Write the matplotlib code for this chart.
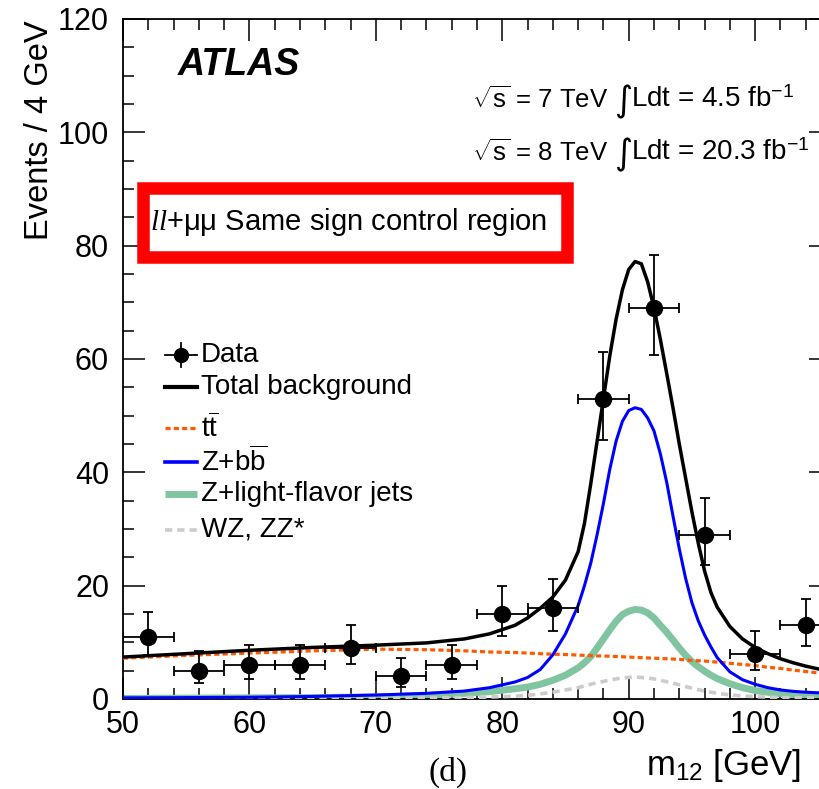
import matplotlib
matplotlib.use("Agg")
import matplotlib.pyplot as plt
from matplotlib.lines import Line2D
from matplotlib.patches import Rectangle
from matplotlib.ticker import MultipleLocator

plt.rcParams["font.family"] = ["Liberation Sans", "DejaVu Sans"]
plt.rcParams["mathtext.fontset"] = "custom"
plt.rcParams["mathtext.rm"] = "Liberation Sans"
plt.rcParams["mathtext.it"] = "Liberation Serif:italic"
plt.rcParams["mathtext.bf"] = "Liberation Sans:bold"

# ---- data: observed events per 4 GeV bin ----
bin_centers = [52, 56, 60, 64, 68, 72, 76, 80, 84, 88, 92, 96, 100, 104]
data_counts = [11, 5, 6, 6, 9, 4, 6, 15, 16, 53, 69, 29, 8, 13]
err_low = [3.3, 2.2, 2.4, 2.4, 2.9, 1.9, 2.4, 3.8, 4.0, 7.3, 8.3, 5.3, 2.8, 3.6]
err_high = [4.4, 3.4, 3.6, 3.6, 4.1, 3.2, 3.6, 5.0, 5.1, 8.3, 9.4, 6.4, 4.0, 4.7]
bin_half_width = 2.0

# ---- background model curves ----
m_grid = [50, 55, 60, 65, 70, 74, 77, 79, 81, 82, 83, 84, 85, 86, 86.5, 87,
          87.5, 88, 88.5, 89, 89.5, 90, 90.5, 91, 91.5, 92, 92.5, 93, 93.5,
          94, 94.5, 95, 95.5, 96, 96.5, 97, 98, 99, 100, 101, 102, 103, 104,
          105, 106]
total_bkg = [7.4, 8.0, 8.6, 9.1, 9.5, 9.9, 10.6, 11.5, 13.0, 14.3, 16.0, 18.0,
             21.0, 26.0, 31.0, 38.0, 45.5, 53.0, 60.5, 67.0, 72.2, 75.8, 77.2,
             76.8, 73.6, 69.0, 63.5, 57.5, 51.4, 45.0, 39.0, 33.0, 27.5, 22.6,
             18.8, 16.2, 12.8, 10.6, 9.1, 8.0, 7.1, 6.4, 5.8, 5.3, 4.9]
ttbar = [7.2, 7.7, 8.1, 8.5, 8.8, 8.7, 8.5, 8.3, 8.2, 8.1, 8.0, 7.9, 7.85,
         7.75, 7.7, 7.65, 7.6, 7.6, 7.55, 7.5, 7.45, 7.4, 7.35, 7.3, 7.25, 7.2,
         7.15, 7.1, 7.05, 7.0, 6.9, 6.8, 6.75, 6.7, 6.6, 6.5, 6.3, 6.1, 5.9,
         5.6, 5.4, 5.1, 4.85, 4.6, 4.4]
z_bb = [0.2, 0.25, 0.3, 0.45, 0.7, 1.0, 1.4, 2.0, 3.0, 3.8, 5.2, 7.8, 11.5,
        16.5, 20.0, 24.0, 29.0, 34.5, 40.5, 45.5, 49.0, 50.9, 51.4, 51.1, 49.6,
        47.3, 43.3, 38.3, 32.3, 26.5, 21.3, 17.0, 13.8, 11.3, 9.2, 7.3, 4.8,
        3.4, 2.6, 2.0, 1.6, 1.35, 1.2, 1.1, 1.0]
z_light = [0.1, 0.15, 0.2, 0.25, 0.35, 0.6, 1.0, 1.3, 1.8, 2.1, 2.6, 3.3, 4.2,
           5.5, 6.4, 7.5, 9.0, 10.6, 12.2, 13.7, 14.9, 15.5, 15.8, 15.7, 15.2,
           14.3, 13.0, 11.8, 10.4, 9.0, 7.7, 6.6, 5.7, 4.9, 4.2, 3.6, 2.7, 2.0,
           1.5, 1.2, 0.95, 0.8, 0.65, 0.55, 0.5]
wz_zz = [0.05, 0.05, 0.07, 0.1, 0.12, 0.18, 0.25, 0.35, 0.5, 0.65, 0.9, 1.2,
         1.6, 2.0, 2.3, 2.6, 2.9, 3.1, 3.35, 3.55, 3.7, 3.8, 3.85, 3.8, 3.7,
         3.55, 3.3, 3.05, 2.8, 2.5, 2.2, 1.9, 1.65, 1.4, 1.2, 1.0, 0.72, 0.55,
         0.42, 0.33, 0.27, 0.23, 0.2, 0.18, 0.17]

C_TT = "#ff5a00"
C_BB = "#0000ff"
C_LF = "#80c4a0"
C_VV = "#cccccc"

W, H = 820, 789
fig = plt.figure(figsize=(W / 100, H / 100), dpi=100)
ax = fig.add_axes([123 / W, (H - 699) / H, 708 / W, 680 / H])

ax.plot(m_grid, z_light, color=C_LF, lw=5.0, solid_capstyle="butt", zorder=2)
ax.plot(m_grid, wz_zz, color=C_VV, lw=2.6, dashes=(2.0, 1.4), zorder=3)
ax.plot(m_grid, ttbar, color=C_TT, lw=2.3, dashes=(1.6, 1.0), zorder=3)
ax.plot(m_grid, z_bb, color=C_BB, lw=2.2, zorder=4)
ax.plot(m_grid, total_bkg, color="black", lw=2.5, zorder=5)

ax.errorbar(bin_centers, data_counts, yerr=[err_low, err_high],
            xerr=bin_half_width, fmt="o", color="black", ms=11.5,
            elinewidth=1.3, capsize=3.5, capthick=1.3, zorder=6)

ax.set_xlim(50, 106)
ax.set_ylim(0, 120)
ax.xaxis.set_major_locator(MultipleLocator(10))
ax.xaxis.set_minor_locator(MultipleLocator(2))
ax.yaxis.set_major_locator(MultipleLocator(20))
ax.yaxis.set_minor_locator(MultipleLocator(5))
ax.tick_params(which="both", direction="in", top=True, right=True,
               width=1.1, labelsize=22, colors="black")
ax.tick_params(which="major", length=16)
ax.tick_params(which="minor", length=8)
ax.tick_params(axis="x", pad=8)
ax.tick_params(axis="y", pad=10)
for s in ax.spines.values():
    s.set_linewidth(1.3)

fig.text(40 / W, 1 - 20 / H, "Events / 4 GeV", rotation=90, ha="center",
         va="top", fontsize=23.5)
fig.text(801 / W, 1 - 765 / H, r"m$_{12}$ [GeV]", ha="right", va="center",
         fontsize=25)
fig.text(448 / W, 1 - 772 / H, "(d)", ha="center", va="center", fontsize=24,
         family="Liberation Serif")

fig.text(178 / W, 1 - 65 / H, "ATLAS", ha="left", va="center", fontsize=27,
         fontweight="bold", fontstyle="italic")

# luminosity lines: each piece placed separately so the integral sign can be tall
for y, energy, lumi in [(100, "7", "4.5"), (153, "8", "20.3")]:
    fig.text(472 / W, 1 - y / H, r"$\sqrt{\mathrm{s}}$ = " + energy + " TeV",
             ha="left", va="center", fontsize=18.5)
    fig.text(614 / W, 1 - (y + 2) / H, "∫", ha="left", va="center",
             fontsize=25, family=["DejaVu Sans", "Noto Sans"])
    fig.text(631 / W, 1 - y / H,
             "Ldt = " + lumi + r" fb$^{\mathrm{-1}}$",
             ha="left", va="center", fontsize=20)

# region label with red frame
fig.add_artist(Rectangle((143 / W, 1 - 257 / H), (567 - 143) / W,
                         (257 - 188) / H, transform=fig.transFigure,
                         fill=False, edgecolor="#ff0000", lw=9,
                         joinstyle="miter"))
fig.text(150 / W, 1 - 222 / H, r"$\mathit{ll}$+μμ Same sign control region",
         ha="left", va="center", fontsize=21)

# legend
def fig_pt(x, y):
    return x / W, 1 - y / H

leg_x0, leg_x1, txt_x = 165, 197, 201
entries = [
    (355, "Data", None),
    (387, "Total background", dict(color="black", lw=3.0)),
    (428, r"t$\mathrm{\overline{t}}$", dict(color=C_TT, lw=2.3, dashes=(1.6, 1.0))),
    (462, r"Z+b$\mathrm{\overline{b}}$", dict(color=C_BB, lw=2.6)),
    (494, "Z+light-flavor jets", dict(color=C_LF, lw=5.0, solid_capstyle="butt")),
    (530, "WZ, ZZ*", dict(color=C_VV, lw=2.6, dashes=(2.0, 1.4))),
]
for y, label, style in entries:
    xa, ya = fig_pt(leg_x0, y)
    xb, _ = fig_pt(leg_x1, y)
    if style is None:
        xm, _ = fig_pt((leg_x0 + leg_x1) / 2, y)
        fig.add_artist(Line2D([xa, xb], [ya, ya], color="black", lw=1.3,
                              transform=fig.transFigure))
        _, yt = fig_pt(0, y - 12)
        _, yb = fig_pt(0, y + 12)
        fig.add_artist(Line2D([xm, xm], [yb, yt], color="black", lw=1.3,
                              transform=fig.transFigure))
        fig.add_artist(Line2D([xm], [ya], marker="o", ms=10, color="black",
                              transform=fig.transFigure))
    else:
        fig.add_artist(Line2D([xa, xb], [ya, ya], transform=fig.transFigure,
                              **style))
    xt, yt = fig_pt(txt_x, y)
    fig.text(xt, yt, label, ha="left", va="center", fontsize=20)

fig.savefig("out.png", dpi=100)
